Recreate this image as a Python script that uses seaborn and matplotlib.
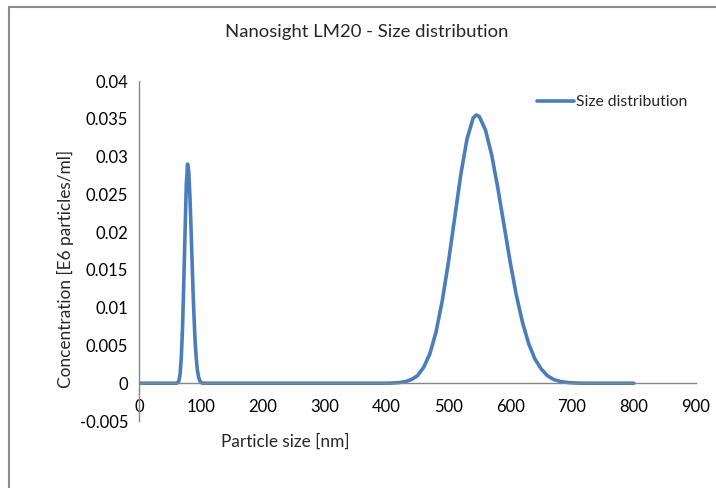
import matplotlib
matplotlib.use('Agg')
import matplotlib.pyplot as plt
from matplotlib.patches import Rectangle
import seaborn as sns
import pandas as pd

# dati (dimensione in nm, concentrazione in E6 particelle/ml)
base_sinistra = [0, 60]
picco1_size = [62, 64, 66, 68, 70, 72, 74, 76, 78, 80, 82, 84, 86, 88, 90, 92, 94, 96, 98, 100, 102]
picco1_conc = [0.00005, 0.0003, 0.0012, 0.0035, 0.0075, 0.0135, 0.0200, 0.0262, 0.0290, 0.0280,
               0.0245, 0.0197, 0.0145, 0.0098, 0.0060, 0.0034, 0.0017, 0.0008, 0.0003, 0.0001, 0.0]
picco2_size = [400, 410, 420, 430, 440, 450, 460, 470, 480, 490, 500, 510, 520, 530, 540, 545,
               550, 560, 570, 580, 590, 600, 610, 620, 630, 640, 650, 660, 670, 680, 690, 700, 710, 720]
picco2_conc = [0.0, 0.00003, 0.00008, 0.0002, 0.00048, 0.001, 0.0021, 0.0039, 0.0068, 0.0109,
               0.0160, 0.0218, 0.0276, 0.0323, 0.0351, 0.0355,
               0.0353, 0.0335, 0.0302, 0.0258, 0.0209, 0.0160, 0.0116, 0.0080, 0.0052, 0.0032,
               0.0019, 0.0010, 0.0005, 0.00025, 0.00012, 0.00005, 0.00002, 0.0]
base_destra = [800]

y_ticks = [-0.005, 0, 0.005, 0.01, 0.015, 0.02, 0.025, 0.03, 0.035, 0.04]
y_labels = ['-0.005', '0', '0.005', '0.01', '0.015', '0.02', '0.025', '0.03', '0.035', '0.04']
x_ticks = [0, 100, 200, 300, 400, 500, 600, 700, 800, 900]

# costruzione dataframe
dimensioni = base_sinistra + picco1_size + picco2_size + base_destra
concentrazioni = [0.0, 0.0] + picco1_conc + picco2_conc + [0.0]
df = pd.DataFrame({'size': dimensioni, 'conc': concentrazioni})

sns.set_style('white')
plt.rcParams['font.family'] = ['Lato', 'DejaVu Sans']

fig = plt.figure(figsize=(7.16, 4.88), dpi=100)
W, H = 716, 488
ax = fig.add_axes([139.3 / W, 1 - 421 / H, (695.7 - 139.3) / W, (421 - 81) / H])

colore = '#4a7ebb'
sns.lineplot(data=df, x='size', y='conc', ax=ax, color=colore, linewidth=2.6,
             label='Size distribution', sort=False)

ax.set_xlim(0, 900)
ax.set_ylim(-0.005, 0.04)
ax.set_xticks(x_ticks)
ax.set_xticklabels([str(t) for t in x_ticks])
ax.set_yticks(y_ticks)
ax.set_yticklabels(y_labels)

grigio = '#868686'
ax.spines['top'].set_visible(False)
ax.spines['right'].set_visible(False)
ax.spines['bottom'].set_position(('data', 0))
ax.spines['bottom'].set_color(grigio)
ax.spines['left'].set_color(grigio)
ax.spines['bottom'].set_linewidth(1.0)
ax.spines['left'].set_linewidth(1.0)
ax.tick_params(axis='both', which='both', direction='out', length=5, width=1.0,
               color=grigio, labelsize=12, labelcolor='black')
ax.tick_params(axis='y', pad=3)
ax.tick_params(axis='x', pad=6)
ax.set_xlabel('')
ax.set_ylabel('')

# testi
fig.text(367 / W, 1 - 32 / H, 'Nanosight LM20 - Size distribution', ha='center', va='center', fontsize=13.3)
fig.text(65 / W, 1 - 269 / H, 'Concentration [E6 particles/ml]', ha='center', va='center',
         rotation=90, fontsize=12.4)
fig.text(285 / W, 1 - 442 / H, 'Particle size [nm]', ha='center', va='center', fontsize=12.4)

leg = ax.legend(loc='center right', bbox_to_anchor=(695 / W, 1 - 102 / H), bbox_transform=fig.transFigure,
                frameon=False, fontsize=11.3, handlelength=2.4, handletextpad=0.1, borderpad=0)

# bordo del grafico
fig.patches.append(Rectangle((9 / W, -0.1), 1.2, (1 - 7 / H) + 0.1, transform=fig.transFigure,
                             fill=False, edgecolor='#8c8c8c', linewidth=1.5))

fig.savefig('out.png', dpi=100)
